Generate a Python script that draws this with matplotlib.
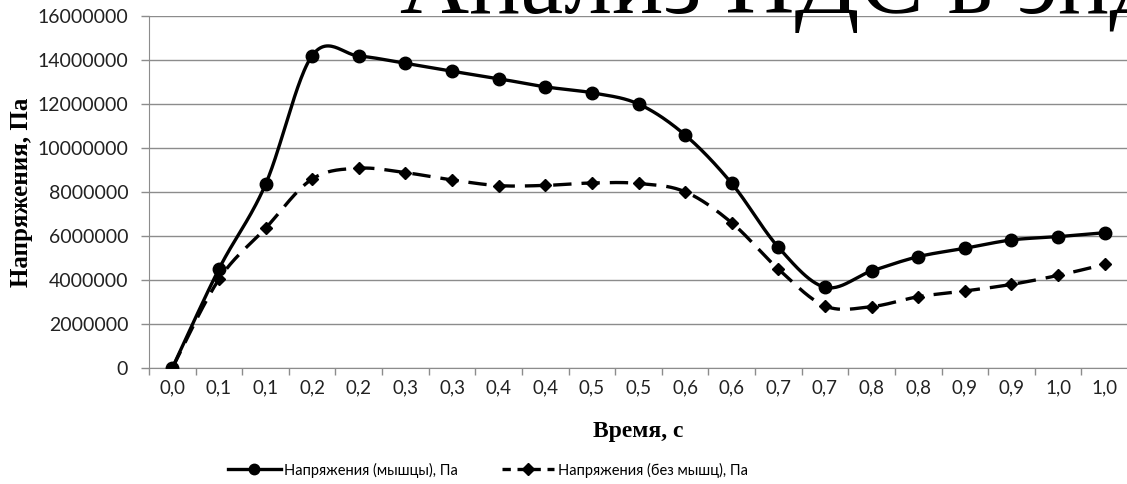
import matplotlib
matplotlib.use("Agg")
import matplotlib.pyplot as plt
from matplotlib.lines import Line2D
import numpy as np

# данные
labels = ["0,0", "0,1", "0,1", "0,2", "0,2", "0,3", "0,3", "0,4", "0,4", "0,5", "0,5",
          "0,6", "0,6", "0,7", "0,7", "0,8", "0,8", "0,9", "0,9", "1,0", "1,0"]
s_muscle = [0, 4500000, 8350000, 14200000, 14180000, 13850000, 13490000, 13150000,
            12780000, 12510000, 12000000, 10590000, 8390000, 5490000, 3670000,
            4410000, 5060000, 5440000, 5820000, 5970000, 6150000]
s_nomuscle = [0, 4030000, 6350000, 8590000, 9080000, 8880000, 8550000, 8290000,
              8300000, 8410000, 8390000, 8010000, 6600000, 4500000, 2820000,
              2790000, 3240000, 3500000, 3800000, 4210000, 4710000]

title_text = "Анализ НДС в эндопротезе"
ylabel_text = "Напряжения, Па"
xlabel_text = "Время, с"
name_muscle = "Напряжения (мышцы), Па"
name_nomuscle = "Напряжения (без мышц), Па"


def smooth(y, n=30):
    # сглаживание как в Excel (кривые Безье через точки)
    y = np.asarray(y, dtype=float)
    x = np.arange(len(y), dtype=float)
    px = np.concatenate([[x[0]], x, [x[-1]]])
    py = np.concatenate([[y[0]], y, [y[-1]]])
    xs, ys = [], []
    t = np.linspace(0, 1, n)
    for i in range(len(y) - 1):
        p0 = np.array([px[i], py[i]])
        p1 = np.array([px[i + 1], py[i + 1]])
        p2 = np.array([px[i + 2], py[i + 2]])
        p3 = np.array([px[i + 3], py[i + 3]])
        c1 = p1 + (p2 - p0) / 6
        c2 = p2 - (p3 - p1) / 6
        b = ((1 - t) ** 3)[:, None] * p1 + (3 * (1 - t) ** 2 * t)[:, None] * c1 \
            + (3 * (1 - t) * t ** 2)[:, None] * c2 + (t ** 3)[:, None] * p2
        xs.extend(b[:, 0])
        ys.extend(b[:, 1])
    return np.array(xs), np.array(ys)


fig = plt.figure(figsize=(11.27, 4.84), dpi=100)
ax = fig.add_axes([149 / 1127, 1 - 368 / 484, 979 / 1127, 352 / 484])

tick_font = "Lato"
grid_c = "#8c8c8c"

x = np.arange(len(labels))
sx, sy = smooth(s_muscle)
ax.plot(sx, sy, color="black", lw=2.4, solid_capstyle="round", zorder=3)
ax.plot(x, s_muscle, "o", color="black", ms=9, zorder=4)

dx, dy = smooth(s_nomuscle)
ax.plot(dx, dy, color="black", lw=2.4, dashes=(5.5, 3), zorder=3)
ax.plot(x, s_nomuscle, "D", color="black", ms=6.5, zorder=4)

ax.set_xlim(-0.5, len(labels) - 0.5)
ax.set_ylim(0, 16000000)
ax.set_yticks(np.arange(0, 16000001, 2000000))
ax.set_yticklabels([str(v) for v in range(0, 16000001, 2000000)],
                   fontfamily=tick_font, fontsize=14, color="#222222")
ax.set_xticks(x)
ax.set_xticklabels(labels, fontfamily=tick_font, fontsize=13.5, color="#222222")
ax.set_xticks(np.arange(-0.5, len(labels), 1.0), minor=True)
ax.tick_params(axis="x", which="major", length=0, pad=8)
ax.tick_params(axis="x", which="minor", length=5, color=grid_c, width=1)
ax.tick_params(axis="y", length=6, color=grid_c, width=1, pad=9)

ax.grid(axis="y", color=grid_c, lw=1)
ax.set_axisbelow(True)
for sp in ["top", "right"]:
    ax.spines[sp].set_visible(False)
ax.spines["left"].set_color(grid_c)
ax.spines["bottom"].set_color(grid_c)

ax.set_ylabel(ylabel_text, fontfamily="Liberation Serif", fontweight="bold",
              fontsize=18, labelpad=3)
ax.set_xlabel(xlabel_text, fontfamily="Liberation Serif", fontweight="bold",
              fontsize=17, labelpad=18)

fig.text(400 / 1127, 1 - 13 / 484, title_text, fontfamily="Liberation Serif",
         fontsize=69, va="baseline", ha="left", color="black")

h1 = Line2D([], [], color="black", lw=2.4, marker="o", ms=7.5)
h2 = Line2D([], [], color="black", lw=2.4, dashes=(2.5, 2), marker="D", ms=6)
fig.legend([h1, h2], [name_muscle, name_nomuscle], loc="center",
           bbox_to_anchor=(0.433, 1 - 470 / 484), ncol=2, frameon=False,
           prop={"family": tick_font, "size": 10.5}, handlelength=3.6,
           handletextpad=0.25, columnspacing=3.0)

plt.savefig("out.png", dpi=100)
